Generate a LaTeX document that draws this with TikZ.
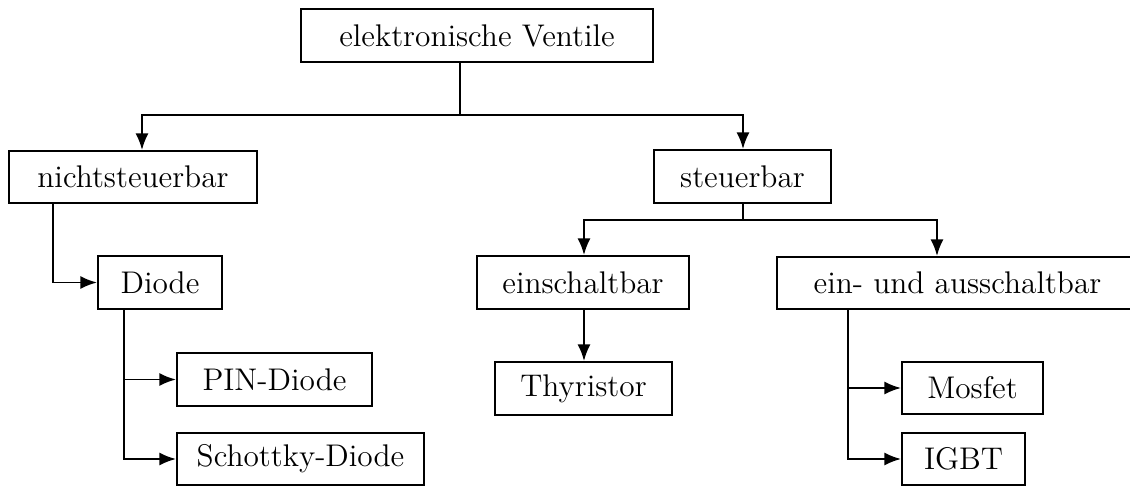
\documentclass[tikz,border=0pt]{standalone}
\usetikzlibrary{arrows.meta}
\def\u{0.383pt}
\tikzset{
  box/.style={draw, line width=0.75pt, inner sep=0pt, minimum height=53*\u, anchor=center, font=\large},
  conn/.style={line width=0.75pt},
  arr/.style={conn, -{Latex[length=6.4pt,width=5pt]}}
}
\begin{document}
\begin{tikzpicture}[x=0.383pt, y=-0.383pt]
\useasboundingbox (0,0) rectangle (1130,486);
% nodes
\node[box, minimum width=352*\u] (V)  at (477,35.5) {elektronische Ventile};
\node[box, minimum width=248*\u, minimum height=52*\u] (N) at (133,177) {nichtsteuerbar};
\node[box, minimum width=177*\u] (S)  at (742.5,176.5) {steuerbar};
\node[box, minimum width=124*\u] (D)  at (160,282.5) {Diode};
\node[box, minimum width=212*\u] (E)  at (583,282.5) {einschaltbar};
\node[box, minimum width=361*\u, minimum height=52*\u] (EA) at (957.5,283) {ein- und ausschaltbar};
\node[box, minimum width=177*\u] (T)  at (583.5,388.5) {Thyristor};
\node[box, minimum width=195*\u] (P)  at (274.5,379.5) {PIN-Diode};
\node[box, minimum width=247*\u, minimum height=52*\u] (SD) at (300.5,459) {Schottky-Diode};
\node[box, minimum width=141*\u, minimum height=52*\u] (M)  at (972.5,388) {Mosfet};
\node[box, minimum width=123*\u, minimum height=52*\u] (I)  at (963.5,459) {IGBT};
% junction coordinates
\coordinate (vj) at (460,115);
\coordinate (nj) at (142,115);
\coordinate (sj) at (743,115);
\coordinate (nd) at (53,0);
\coordinate (dd) at (124,0);
\coordinate (ej) at (584,220);
\coordinate (aj) at (937,220);
\coordinate (tj) at (584,0);
\coordinate (mj) at (848,0);
% connectors
\draw[arr] (V.south -| vj) -- (vj) -| (N.north -| nj);
\draw[arr] (vj) -| (S.north -| sj);
\draw[arr] (N.south -| nd) |- (D.west);
\draw[arr] (D.south -| dd) |- (P.west);
\draw[arr] (D.south -| dd) |- (SD.west);
\draw[arr] (S.south -| sj) |- (ej) -- (E.north -| ej);
\draw[arr] (S.south -| sj) |- (aj) -- (EA.north -| aj);
\draw[arr] (E.south -| tj) -- (T.north -| tj);
\draw[arr] (EA.south -| mj) |- (M.west);
\draw[arr] (EA.south -| mj) |- (I.west);
\end{tikzpicture}
\end{document}
